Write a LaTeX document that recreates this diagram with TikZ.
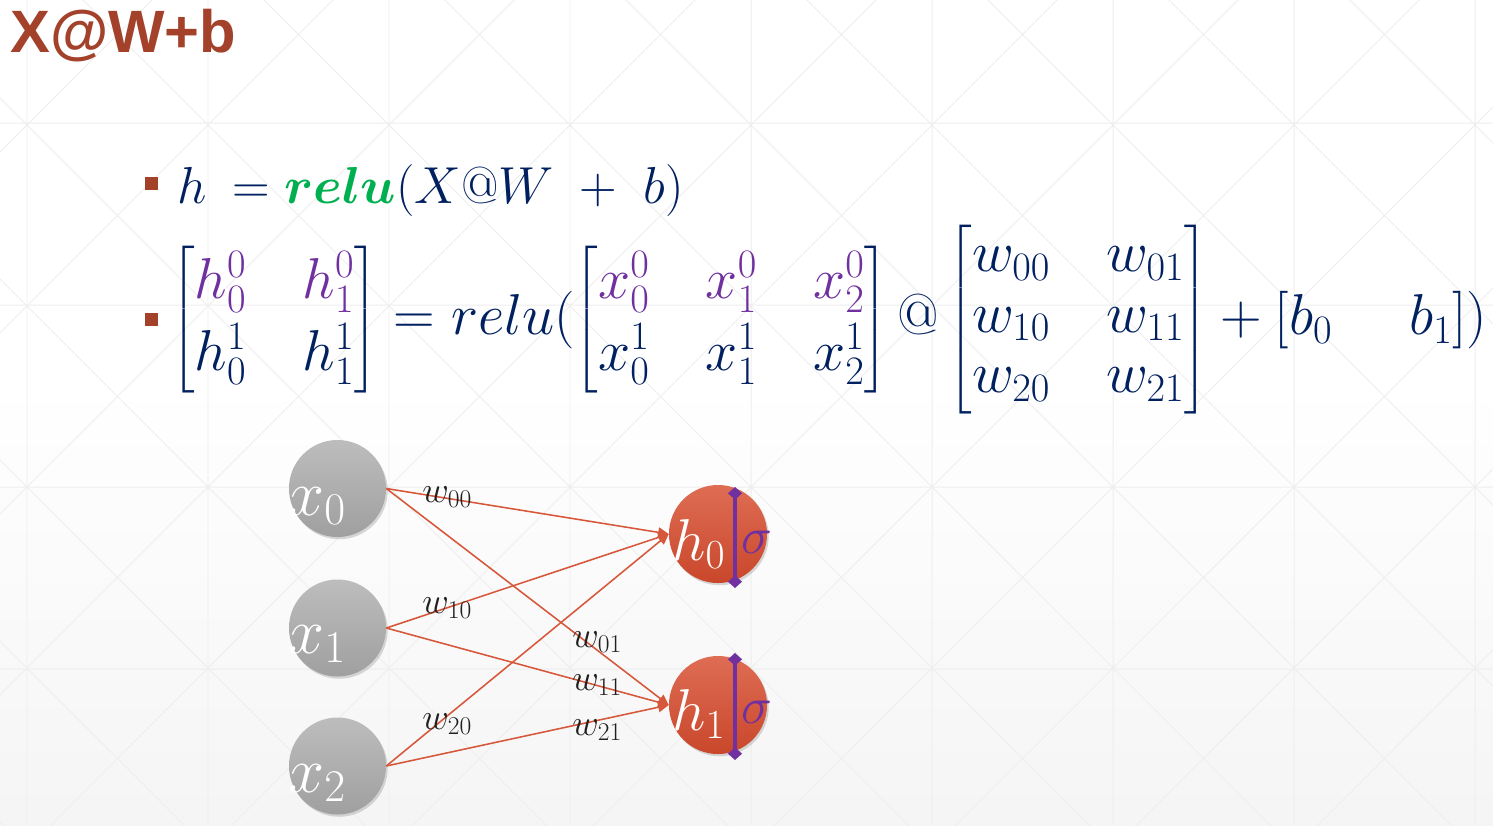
\RequirePackage{fix-cm}
\documentclass[tikz,border=0pt]{standalone}
\usepackage{fontspec}
\usepackage{amsmath,bm}
\usetikzlibrary{arrows.meta,shadows}
\newfontfamily\titlefont{Liberation Sans}
\definecolor{titlecol}{HTML}{A3412B}
\definecolor{navy}{HTML}{002060}
\definecolor{mpurple}{HTML}{7030A0}
\definecolor{mgreen}{HTML}{00B050}
\definecolor{edgecol}{HTML}{D6573A}
\definecolor{gridcol}{HTML}{EEEEEE}
\definecolor{wlab}{HTML}{202020}
\definecolor{hidtop}{HTML}{DE6D54}
\definecolor{hidbot}{HTML}{C9472B}
\newcommand{\pc}[1]{{\color{mpurple}#1}}
\begin{document}
\begin{tikzpicture}[x=0.025cm,y=-0.025cm,
  inp/.style={circle,minimum size=2.425cm,inner sep=0,top color=gray!52,bottom color=gray!75,
     drop shadow={shadow xshift=1.2pt,shadow yshift=-1.6pt,opacity=0.3}},
  hid/.style={circle,minimum size=2.45cm,inner sep=0,top color=hidtop,bottom color=hidbot,
     drop shadow={shadow xshift=1.2pt,shadow yshift=-1.6pt,opacity=0.3}},
  inlab/.style={anchor=base west,inner sep=0,text=white,font=\fontsize{46}{52}\selectfont},
  hlab/.style={anchor=base west,inner sep=0,text=white,font=\fontsize{42}{48}\selectfont},
  siglab/.style={anchor=base west,inner sep=0,text=mpurple,font=\fontsize{37}{42}\selectfont},
  wlabel/.style={anchor=base west,inner sep=0,text=wlab,font=\fontsize{26}{30}\selectfont},
  conn/.style={draw=edgecol,line width=1.1pt,-{Triangle[length=7.5pt,width=7pt]}},
  bar/.style={draw=mpurple,line width=2.8pt,{Diamond[length=9pt,width=10pt]}-{Diamond[length=9pt,width=10pt]}},
  bulletsq/.style={fill=titlecol}
]
\useasboundingbox (0,0) rectangle (1493,825);
% background
\fill[white] (0,0) rectangle (1493,380);
\shade[top color=white,bottom color=black!4] (0,380) rectangle (1493,825);
\begin{scope}
\clip (0,0) rectangle (1493,825);
\draw[gridcol,line width=0.7pt]
  \foreach \k in {0,...,8} { (27+181*\k,0) -- (27+181*\k,825) }
  \foreach \k in {-1,...,4} { (0,123+182*\k) -- (1493,123+182*\k) }
  \foreach \m in {-3,...,10} { (-460+181*\m-100,-100) -- (-460+181*\m+1000,1000) }
  \foreach \m in {-3,...,10} { (514+181*\m+100,-100) -- (514+181*\m-1000,1000) };
\end{scope}
% title
\node[anchor=base west,inner sep=0,text=titlecol,font=\titlefont\bfseries\fontsize{42.5}{48}\selectfont] (title) at (10,52) {X@W+b};
% bullets
\fill[bulletsq] (145,177) rectangle (158,190);
\fill[bulletsq] (145,313) rectangle (158,326);
% equation 1
\node[anchor=base west,inner sep=0,text=navy] (eq1) at (177,203)
  {\fontsize{37}{44}\selectfont$h\mkern4mu={\color{mgreen}\bm{relu}}(X@W\mkern5mu+\mkern5mu b)$};
% equation 2
\node[anchor=west,inner sep=0,text=navy] (eq2) at (171,320)
  {\fontsize{41}{43}\selectfont$\setlength{\arraycolsep}{20pt}
   \begin{bmatrix}\pc{h_0^0} & \pc{h_1^0}\\[5pt] h_0^1 & h_1^1\end{bmatrix}
   = relu(\begin{bmatrix}\pc{x_0^0} & \pc{x_1^0} & \pc{x_2^0}\\[5pt] x_0^1 & x_1^1 & x_2^1\end{bmatrix}
   @\begin{bmatrix} w_{00} & w_{01}\\ w_{10} & w_{11}\\ w_{20} & w_{21}\end{bmatrix}
   +[b_0\mkern24mu b_1])$};
% network nodes
\node[inp] (x0) at (337.5,488.5) {};
\node[inp] (x1) at (337.5,628) {};
\node[inp] (x2) at (337.5,766) {};
\node[hid] (h0) at (718,534) {};
\node[hid] (h1) at (718,705) {};
\node[inlab] (x0l) at (288,515) {$x_0$};
\node[inlab] (x1l) at (288,653) {$x_1$};
\node[inlab] (x2l) at (288,792) {$x_2$};
\node[hlab] (h0l) at (672,560) {$h_0$};
\node[hlab] (h1l) at (672,730) {$h_1$};
% connections
\foreach \i in {0,1,2} {
  \draw[conn] (x\i.east) -- (h0.west);
  \draw[conn] (x\i.east) -- (h1.west);
}
% weight labels
\node[wlabel] (w00) at (422,502) {$w_{00}$};
\node[wlabel] (w10) at (422,613) {$w_{10}$};
\node[wlabel] (w20) at (422,729) {$w_{20}$};
\node[wlabel] (w01) at (572,647) {$w_{01}$};
\node[wlabel] (w11) at (572,690) {$w_{11}$};
\node[wlabel] (w21) at (572,735) {$w_{21}$};
% activation bars
\coordinate (b0t) at (735,487);
\coordinate (b0b) at (735,588);
\coordinate (b1t) at (735,653);
\coordinate (b1b) at (735,760);
\draw[bar] (b0t) -- (b0b);
\draw[bar] (b1t) -- (b1b);
\node[siglab] (s0) at (741,553) {$\sigma$};
\node[siglab] (s1) at (741,723) {$\sigma$};
\end{tikzpicture}
\end{document}
